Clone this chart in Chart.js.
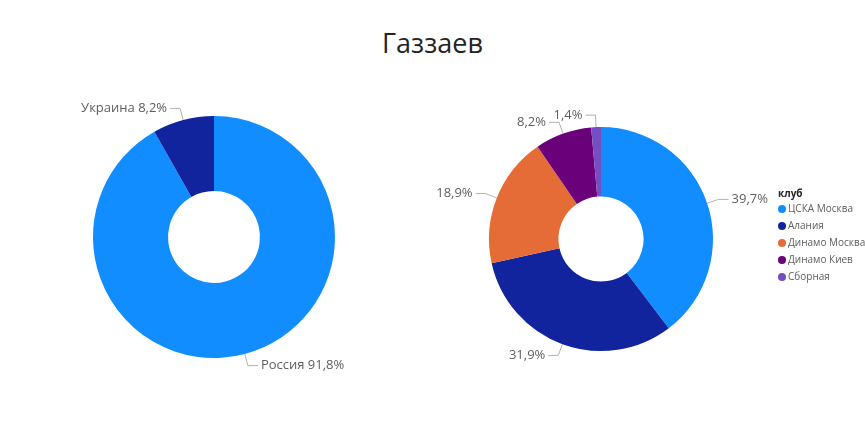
<!DOCTYPE html>
<html><head><meta charset="utf-8">
<script src="https://cdn.jsdelivr.net/npm/chart.js@4"></script>
<style>
body{margin:0;background:#fff;width:865px;height:436px;position:relative;overflow:hidden;font-family:"Open Sans",sans-serif}
#title{position:absolute;top:24px;left:0;width:865px;text-align:center;font-size:27px;color:#252423}
canvas{position:absolute;top:0}
</style></head><body>
<div id="title">Газзаев</div>
<canvas id="left" width="430" height="436" style="left:0"></canvas>
<canvas id="right" width="435" height="436" style="left:430px"></canvas>
<script>
const countries = ['Россия', 'Украина'];
const countryShares = [91.8, 8.2];
const countryColors = ['#118DFF', '#12239E'];

const clubs = ['ЦСКА Москва', 'Алания', 'Динамо Москва', 'Динамо Киев', 'Сборная'];
const clubShares = [39.7, 31.9, 18.9, 8.2, 1.4];
const clubColors = ['#118DFF', '#12239E', '#E66C37', '#6B007B', '#744EC2'];

const fmt = v => v.toFixed(1).replace('.', ',') + '%';

// leader-line labels outside each slice
const outLabels = {
  id: 'outLabels',
  afterDatasetsDraw(chart, args, opts) {
    const ctx = chart.ctx;
    const meta = chart.getDatasetMeta(0);
    ctx.save();
    ctx.font = '13px "Open Sans", sans-serif';
    ctx.textBaseline = 'middle';
    meta.data.forEach((arc, i) => {
      const p = arc.getProps(['x', 'y', 'startAngle', 'endAngle', 'outerRadius']);
      const a = (p.startAngle + p.endAngle) / 2;
      const r0 = p.outerRadius, r1 = p.outerRadius + 12;
      const x0 = p.x + Math.cos(a) * r0, y0 = p.y + Math.sin(a) * r0;
      const x1 = p.x + Math.cos(a) * r1, y1 = p.y + Math.sin(a) * r1;
      const right = Math.cos(a) >= 0;
      const x2 = x1 + (right ? 10 : -10);
      ctx.strokeStyle = '#b3b0ad';
      ctx.lineWidth = 1;
      ctx.beginPath();
      ctx.moveTo(x0, y0); ctx.lineTo(x1, y1); ctx.lineTo(x2, y1);
      ctx.stroke();
      const v = chart.data.datasets[0].data[i];
      const text = opts.withName ? chart.data.labels[i] + ' ' + fmt(v) : fmt(v);
      ctx.fillStyle = '#605E5C';
      ctx.textAlign = right ? 'left' : 'right';
      ctx.fillText(text, x2 + (right ? 3 : -3), y1);
    });
    ctx.restore();
  }
};

const legendBox = {
  id: 'legendBox',
  afterDraw(chart, args, opts) {
    if (!opts.show) return;
    const ctx = chart.ctx;
    ctx.save();
    ctx.textBaseline = 'middle';
    ctx.textAlign = 'left';
    ctx.font = 'bold 10px "Open Sans", sans-serif';
    ctx.fillStyle = '#252423';
    ctx.fillText('клуб', 348, 194);
    ctx.font = '10px "Open Sans", sans-serif';
    chart.data.labels.forEach((lab, i) => {
      const y = 209 + i * 17;
      ctx.fillStyle = clubColors[i];
      ctx.beginPath(); ctx.arc(352, y, 4, 0, Math.PI * 2); ctx.fill();
      ctx.fillStyle = '#605E5C';
      ctx.fillText(lab, 358, y);
    });
    ctx.restore();
  }
};

function donut(id, labels, data, colors, pad, cutout, withName, legend) {
  new Chart(document.getElementById(id), {
    type: 'doughnut',
    data: { labels, datasets: [{ data, backgroundColor: colors, borderWidth: 0 }] },
    options: {
      responsive: false,
      animation: false,
      cutout,
      layout: { padding: pad },
      plugins: {
        legend: { display: false },
        tooltip: { enabled: false },
        outLabels: { withName },
        legendBox: { show: legend },
      },
    },
    plugins: [outLabels, legendBox],
  });
}

donut('left', countries, countryShares, countryColors,
  { left: 93, right: 95, top: 116, bottom: 78 }, '38%', true, false);
donut('right', clubs, clubShares, clubColors,
  { left: 59, right: 152, top: 127, bottom: 85 }, '38%', false, true);
</script>
</body></html>
